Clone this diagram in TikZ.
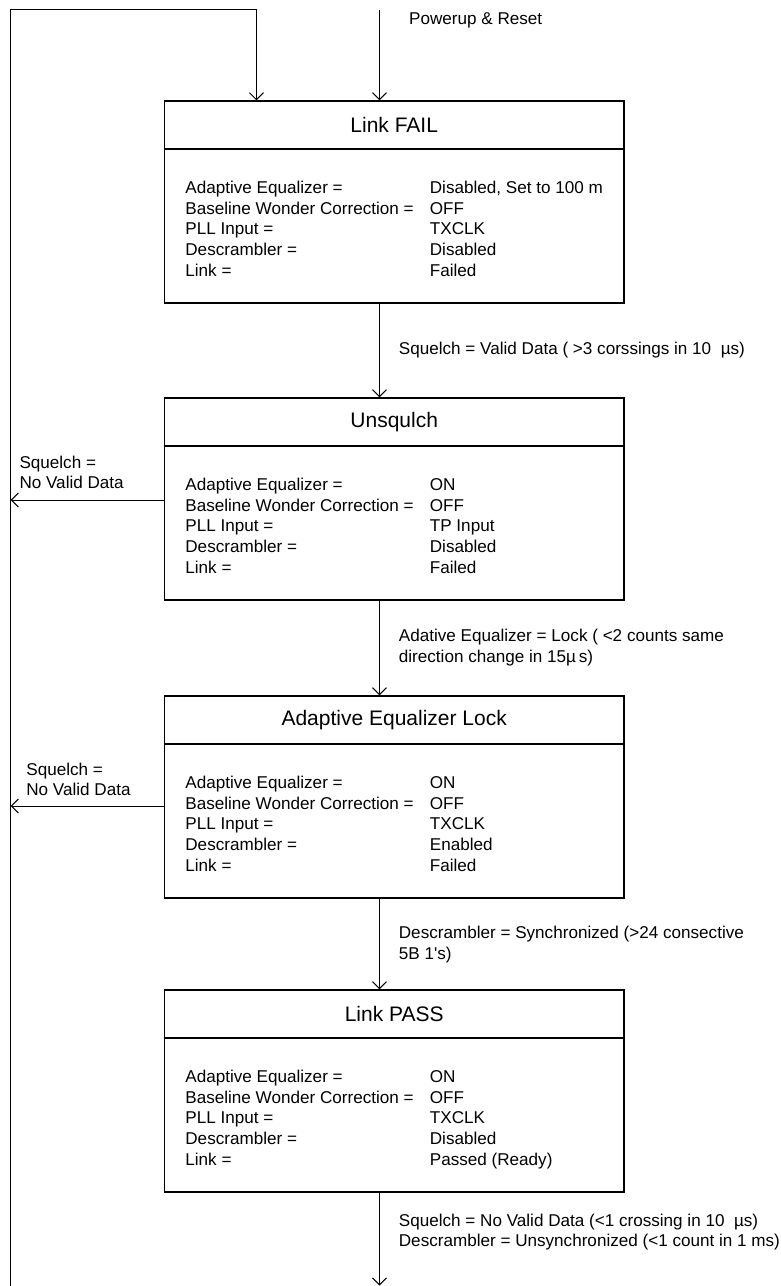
\documentclass[tikz,border=0pt]{standalone}
\usepackage{fontspec}
\setmainfont{Liberation Sans}
\usetikzlibrary{arrows.meta,calc}

\newcommand{\regs}[5]{%
  \begin{tabular}{@{}p{122.25pt}@{}l@{}}
    Adaptive Equalizer = & #1\\
    Baseline Wonder Correction = & #2\\
    PLL Input = & #3\\
    Descrambler = & #4\\
    Link = & #5
  \end{tabular}}

\begin{document}
\begin{tikzpicture}[x=0.5pt, y=-0.5pt, line width=0.5pt, >={Straight Barb[length=3.5pt,width=7pt]},
  state/.style={draw, line width=0.65pt, rectangle, minimum width=229.85pt, minimum height=101pt, inner sep=0pt},
  title/.style={font=\fontsize{10.5}{12.6}\selectfont, inner sep=0pt},
  body/.style={font=\fontsize{8.55}{10.3}\selectfont, inner sep=0pt, anchor=west},
  cond/.style={font=\fontsize{8.55}{10.3}\selectfont, inner sep=0pt, anchor=west, align=left}]
  \useasboundingbox (0,0) rectangle (781,1286);

  % states
  \node[state] (fail) at (394.2,202) {};
  \node[state] (unsq) at (394.2,499) {};
  \node[state] (lock) at (394.2,797) {};
  \node[state] (pass) at (394.2,1091) {};
  \foreach \s/\t in {fail/Link FAIL, unsq/Unsqulch, lock/Adaptive Equalizer Lock, pass/Link PASS} {
    \draw[line width=0.65pt] ($(\s.north west)+(0,48.7)$) -- ($(\s.north east)+(0,48.7)$);
    \node[title] (\s-title) at ($(\s.north)+(0,24.4)$) {\t};
  }
  \node[body] (fail-regs) at ($(fail.north west)+(21.2,130.5)$) {\regs{Disabled, Set to 100 m}{OFF}{TXCLK}{Disabled}{Failed}};
  \node[body] (unsq-regs) at ($(unsq.north west)+(21.2,130.5)$) {\regs{ON}{OFF}{TP Input}{Disabled}{Failed}};
  \node[body] (lock-regs) at ($(lock.north west)+(21.2,130.5)$) {\regs{ON}{OFF}{TXCLK}{Enabled}{Failed}};
  \node[body] (pass-regs) at ($(pass.north west)+(21.2,130.5)$) {\regs{ON}{OFF}{TXCLK}{Disabled}{Passed (Ready)}};

  % transitions
  \coordinate (spine) at (379.5,0);
  \coordinate (reset) at (379.5,9.5);
  \coordinate (exit) at (379.5,1285.5);
  \draw[->] (reset) -- (fail.north -| spine);
  \draw[->] (fail.south -| spine) -- (unsq.north -| spine);
  \draw[->] (unsq.south -| spine) -- (lock.north -| spine);
  \draw[->] (lock.south -| spine) -- (pass.north -| spine);
  \draw[->] (pass.south -| spine) -- (exit);

  % way back to Link FAIL
  \coordinate (loopbot) at (10.7,1286);
  \coordinate (looptop) at (10.7,9.5);
  \coordinate (loopin) at (256.4,9.5);
  \coordinate (back1) at (10.7,500);
  \coordinate (back2) at (10.7,806);
  \draw[->] (loopbot) -- (looptop) -- (loopin) -- (fail.north -| loopin);
  \draw[->] (unsq.west |- back1) -- (back1);
  \draw[->] (lock.west |- back2) -- (back2);

  \node[cond] (c-reset) at (408.7,20) {Powerup \& Reset};
  \node[cond] (c-valid) at (398.4,350) {Squelch = Valid Data ( >3 corssings in 10\ \ µs)};
  \node[cond] (c-lock) at (398.4,647.3) {Adative Equalizer = Lock ( <2 counts same\\direction change in 15µ\,s)};
  \node[cond] (c-sync) at (398.4,944.5) {Descrambler = Synchronized (>24 consective\\5B 1\textquotesingle s)};
  \node[cond] (c-lost) at (398.4,1232) {Squelch = No Valid Data (<1 crossing in 10\ \ µs)\\Descrambler = Unsynchronized (<1 count in 1 ms)};
  \node[cond] (c-sq1) at (19,472.5) {Squelch =\\No Valid Data};
  \node[cond] (c-sq2) at (25.9,779.3) {Squelch =\\No Valid Data};
\end{tikzpicture}
\end{document}
